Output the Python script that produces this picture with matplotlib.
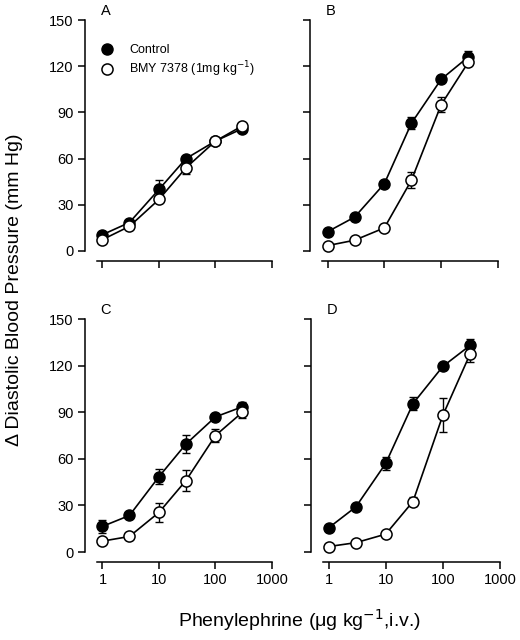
import matplotlib.pyplot as plt
from matplotlib.lines import Line2D
from matplotlib.ticker import FixedLocator, NullLocator

plt.rcParams['font.family'] = ['Liberation Sans', 'DejaVu Sans']

dose = [1, 3, 10, 30, 100, 300]

# panel A
a_ctl = [10.6, 18.5, 40, 60, 71.4, 79.5]
a_ctl_err = [1.5, 1.5, 6, 2, 1.5, 2]
a_bmy = [7.4, 16, 33.5, 54, 71.4, 81.3]
a_bmy_err = [1, 1, 2, 4, 2, 2]

# panel B
b_ctl = [12.5, 22, 43.7, 83, 111.5, 126]
b_ctl_err = [1, 1.5, 2, 4, 2, 4]
b_bmy = [3.5, 7, 15, 46, 95, 122.5]
b_bmy_err = [1, 1, 1.5, 5, 5, 2]

# panel C
c_ctl = [16.5, 23.5, 48.5, 69.5, 87, 93.5]
c_ctl_err = [4, 1.5, 5, 6, 2, 3]
c_bmy = [7, 10, 25.5, 46, 75, 90]
c_bmy_err = [1, 1, 6, 7, 4, 4]

# panel D
d_ctl = [15.5, 29, 57, 95.5, 119.5, 133]
d_ctl_err = [1, 1.5, 4, 4, 2, 4]
d_bmy = [3.5, 6, 11.5, 32.5, 88, 127.5]
d_bmy_err = [1, 1, 2, 3, 11, 5]

panels = [
    ('A', a_ctl, a_ctl_err, a_bmy, a_bmy_err),
    ('B', b_ctl, b_ctl_err, b_bmy, b_bmy_err),
    ('C', c_ctl, c_ctl_err, c_bmy, c_bmy_err),
    ('D', d_ctl, d_ctl_err, d_bmy, d_bmy_err),
]

W, H = 520, 640
fig = plt.figure(figsize=(W / 100, H / 100), dpi=100)

# axes boxes in pixels: left, top, right, bottom
boxes = [(97, 20, 272, 251), (322, 20, 498, 251),
         (97, 319, 272, 552), (323, 319, 500, 552)]

for i, (box, (letter, ctl, ctl_e, bmy, bmy_e)) in enumerate(zip(boxes, panels)):
    l, t, r, b = box
    ax = fig.add_axes([l / W, 1 - b / H, (r - l) / W, (b - t) / H])
    ax.set_xscale('log')
    ax.set_xlim(0.8, 1000)
    ax.set_ylim(0, 150)

    ax.errorbar(dose, ctl, yerr=ctl_e, fmt='none', ecolor='black',
                elinewidth=1, capsize=3, zorder=2)
    ax.plot(dose, ctl, color='black', lw=1.2, marker='o', ms=8,
            mfc='black', mec='black', zorder=3, clip_on=False)
    ax.errorbar(dose, bmy, yerr=bmy_e, fmt='none', ecolor='black',
                elinewidth=1, capsize=3, zorder=4)
    ax.plot(dose, bmy, color='black', lw=1.2, marker='o', ms=8,
            mfc='white', mec='black', mew=1.1, zorder=5, clip_on=False)

    for s in ['top', 'right']:
        ax.spines[s].set_visible(False)
    ax.spines['left'].set_position(('outward', 9))
    ax.spines['bottom'].set_position(('outward', 7))
    ax.spines['left'].set_linewidth(1.1)
    ax.spines['bottom'].set_linewidth(1.1)

    ax.set_yticks([0, 30, 60, 90, 120, 150])
    ax.xaxis.set_major_locator(FixedLocator([1, 10, 100, 1000]))
    ax.xaxis.set_minor_locator(NullLocator())
    ax.set_xticklabels(['1', '10', '100', '1000'])
    ax.tick_params(direction='out', length=5, width=1.1, labelsize=10.5, pad=3)

    if i in (1, 3):
        ax.tick_params(axis='y', labelleft=False)
    if i in (0, 1):
        ax.tick_params(axis='x', labelbottom=False)

    ax.text(0.02, 1.01, letter, transform=ax.transAxes, fontsize=10.5,
            ha='left', va='bottom')

    if i == 0:
        handles = [
            Line2D([], [], ls='none', marker='o', ms=8, mfc='black', mec='black'),
            Line2D([], [], ls='none', marker='o', ms=8, mfc='white', mec='black', mew=1.1),
        ]
        ax.legend(handles, ['Control', 'BMY 7378 (1mg kg$^{-1}$)'],
                  loc='upper left', bbox_to_anchor=(-0.045, 0.945), frameon=False,
                  fontsize=9, handlelength=1.0, handletextpad=1.3,
                  labelspacing=0.3, numpoints=1)

fig.text(15 / W, 1 - 290 / H, '\u0394 Diastolic Blood Pressure (mm Hg)',
         rotation=90, ha='center', va='center', fontsize=14)
fig.text(300 / W, 1 - 620 / H, 'Phenylephrine (\u03bcg kg$^{-1}$,i.v.)',
         ha='center', va='center', fontsize=14)

fig.savefig('out.png', dpi=100)
